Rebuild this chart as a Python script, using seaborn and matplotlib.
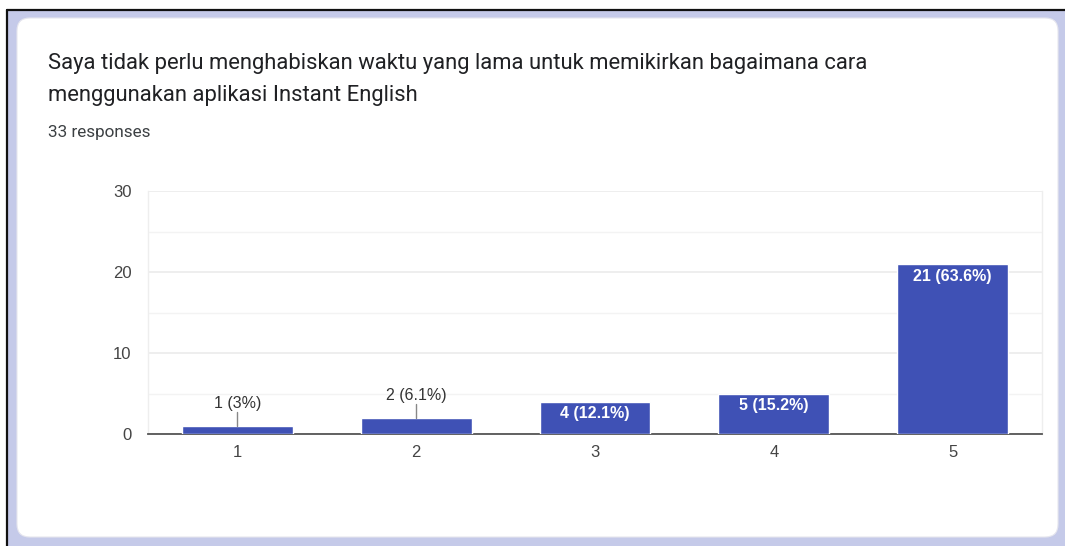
import matplotlib
matplotlib.use("Agg")
import matplotlib.pyplot as plt
import seaborn as sns
import pandas as pd
from matplotlib.patches import Rectangle, FancyBboxPatch
from matplotlib.lines import Line2D

categories = ["1", "2", "3", "4", "5"]
counts = [1, 2, 4, 5, 21]
bar_labels = ["1 (3%)", "2 (6.1%)", "4 (12.1%)", "5 (15.2%)", "21 (63.6%)"]
title_lines = ["Saya tidak perlu menghabiskan waktu yang lama untuk memikirkan bagaimana cara",
               "menggunakan aplikasi Instant English"]
subtitle = "33 responses"
y_ticks = [0, 10, 20, 30]

sns.set_theme(style="white")
plt.rcParams['font.family'] = ['Liberation Sans', 'DejaVu Sans']

W, H = 1065, 546
fig = plt.figure(figsize=(W / 100, H / 100), dpi=100)

def fx(x):
    return x / W

def fy(y):
    return 1 - y / H

# background frame
fig.patches.append(Rectangle((fx(8), 0), 1 - fx(8), fy(11), transform=fig.transFigure,
                             facecolor="#c5cae9", edgecolor="none", zorder=0))
fig.lines.append(Line2D([fx(7), fx(7)], [0, fy(10)], transform=fig.transFigure, color="#111111", lw=1.6))
fig.lines.append(Line2D([fx(7), 1], [fy(10), fy(10)], transform=fig.transFigure, color="#111111", lw=1.6))
card = FancyBboxPatch((fx(17), fy(537)), fx(1058) - fx(17), fy(18) - fy(537),
                      boxstyle="round,pad=0,rounding_size=0.012", transform=fig.transFigure,
                      facecolor="white", edgecolor="#e6e6ee", lw=0.8, zorder=1,
                      mutation_aspect=W / H)
fig.patches.append(card)

fig.text(fx(48), fy(63), title_lines[0], fontsize=15.85, family="Roboto", color="#202124",
         va="center", ha="left", zorder=3)
fig.text(fx(48), fy(96), title_lines[1], fontsize=15.85, family="Roboto", color="#202124",
         va="center", ha="left", zorder=3)
fig.text(fx(48), fy(132), subtitle, fontsize=12.3, family="Roboto", color="#3c4043",
         va="center", ha="left", zorder=3)

ax = fig.add_axes([fx(148), fy(434), fx(1042) - fx(148), fy(191) - fy(434)])
ax.set_zorder(2)
ax.patch.set_alpha(0)

df = pd.DataFrame({"cat": categories, "count": counts})
sns.barplot(data=df, x="cat", y="count", color="#3f51b5", saturation=1, width=0.62, ax=ax, zorder=3)

ax.set_xlim(-0.5, 4.5)
ax.set_ylim(0, 30)
ax.set_yticks(y_ticks)
ax.set_yticks([5, 15, 25], minor=True)
ax.grid(axis="y", which="major", color="#ebebeb", lw=1.2, zorder=0)
ax.grid(axis="y", which="minor", color="#f3f3f3", lw=1.0, zorder=0)
ax.set_xlabel("")
ax.set_ylabel("")
ax.spines["top"].set_visible(False)
ax.spines["left"].set_color("#eeeeee")
ax.spines["right"].set_color("#eeeeee")
ax.spines["left"].set_linewidth(1.0)
ax.spines["right"].set_linewidth(1.0)
ax.spines["bottom"].set_color("#555555")
ax.spines["bottom"].set_linewidth(1.3)
ax.tick_params(axis="both", which="both", length=0, labelsize=12, colors="#444444")
ax.tick_params(axis="y", pad=12)
ax.tick_params(axis="x", pad=8)

for i, (c, lab) in enumerate(zip(counts, bar_labels)):
    if c <= 2:
        ax.plot([i, i], [c, c + 1.75], color="#888888", lw=1.0, zorder=4)
        ax.text(i, c + 1.85, lab, ha="center", va="bottom", fontsize=11.5, color="#333333", zorder=5)
    else:
        ax.text(i, c - 0.6, lab, ha="center", va="top", fontsize=11.5, fontweight="bold",
                color="white", zorder=5)

fig.savefig("out.png", dpi=100)
